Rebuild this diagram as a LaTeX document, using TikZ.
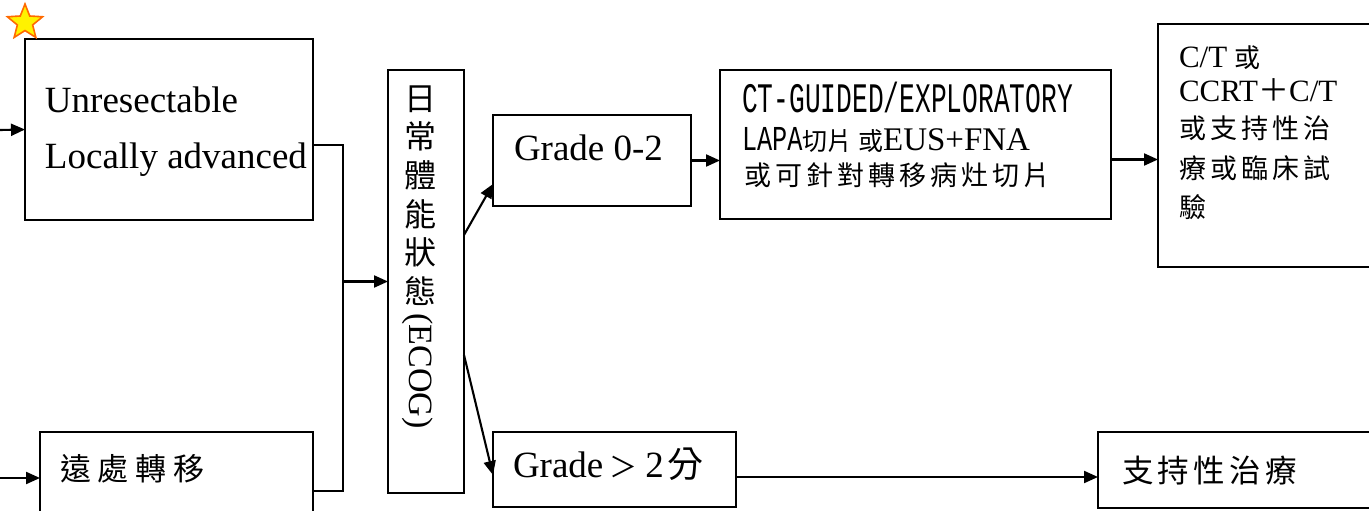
\documentclass[tikz,border=0pt]{standalone}
\usepackage{fontspec}
\setmainfont{Liberation Serif}
\newfontfamily\cjk{Noto Sans CJK TC}
\newfontfamily\cjkB{Noto Sans CJK TC}[LetterSpace=22]
\newfontfamily\cjkS{Noto Sans CJK TC}[LetterSpace=14]
\newfontfamily\cjkR{Noto Sans CJK TC}[LetterSpace=15]
\newfontfamily\cjkC{Noto Sans CJK TC}[LetterSpace=15]
\newfontfamily\monoA{Liberation Mono}[FakeStretch=0.625]
\newfontfamily\monoB{Liberation Mono}[FakeStretch=0.72]
\usetikzlibrary{arrows.meta,shapes.geometric}
\newcommand\fsz[1]{\fontsize{#1}{#1}\selectfont}
\definecolor{staryellow}{HTML}{FFF200}
\definecolor{starorange}{HTML}{FF6A00}
\tikzset{
  ln/.style={line width=2.1pt},
  arr/.style={ln,-{Triangle[length=14pt,width=12pt]}},
  boxnode/.style={draw,line width=2.1pt,inner sep=0pt,outer sep=0pt,anchor=north west},
  txt/.style={inner sep=0pt,outer sep=0pt,anchor=base west},
  ctxt/.style={inner sep=0pt,outer sep=0pt,anchor=base}
}
\begin{document}
\begin{tikzpicture}[x=1pt,y=-1pt]
\useasboundingbox (0,0) rectangle (1369,511);
\clip (0,0) rectangle (1369,511);
% boxes
\node[boxnode,minimum width=288pt,minimum height=181pt] (A) at (25,39) {};
\node[boxnode,minimum width=273pt,minimum height=118pt] (B) at (40,432) {};
\node[boxnode,minimum width=76pt,minimum height=423pt] (E) at (388,70) {};
\node[boxnode,minimum width=198pt,minimum height=91pt] (G1) at (493,115) {};
\node[boxnode,minimum width=243pt,minimum height=75pt] (G2) at (493,432) {};
\node[boxnode,minimum width=391pt,minimum height=149pt] (CT) at (720,70) {};
\node[boxnode,minimum width=260pt,minimum height=243pt] (R) at (1158,24) {};
\node[boxnode,minimum width=320pt,minimum height=76pt] (S) at (1098,432) {};
% star
\node[star,star points=5,star point ratio=2.3,minimum size=37pt,inner sep=0pt,
      fill=staryellow,draw=starorange,line width=1.6pt] (st) at (25,22.5) {};
% texts
\node[txt] (tA1) at (45,113) {\fsz{37}Unresectable};
\node[txt] (tA2) at (45,168) {\fsz{37}Locally advanced};
\node[txt] (tB) at (60,480) {\cjkB\fsz{31}遠處轉移};
\foreach \c [count=\i] in {日,常,體,能,狀,態}
  \node[ctxt] (e\i) at (420,{110.2+(\i-1)*38.6}) {\cjk\fsz{32}\c};
\node[inner sep=0pt,rotate=-90] (eg) at (418,371) {\fsz{34}(ECOG)};
\node[txt] (tG1) at (514,160) {\fsz{37}Grade 0-2};
\node[txt] (tG2) at (513,477) {\fsz{37}Grade\hspace{6pt}{\cjk\fsz{28}＞}\hspace{8pt}2\hspace{4pt}{\cjk\fsz{36}分}};
\node[txt] (c1) at (742,113) {\monoA\fsz{42}CT-GUIDED/EXPLORATORY};
\node[txt] (c2) at (742,150) {\monoB\fsz{35}LAPA{\cjk\fsz{25}切片 或}\rmfamily\fsz{33}EUS+FNA};
\node[txt] (c3) at (744,185) {\cjkC\fsz{27}或可針對轉移病灶切片};
\node[txt] (r1) at (1179,67) {\fsz{31}C/T {\cjk\fsz{26}或}};
\node[txt] (r2) at (1179,102) {\fsz{31}CCRT{\cjk ＋}C/T};
\node[txt] (r3) at (1179,139) {\cjkR\fsz{27}或支持性治};
\node[txt] (r4) at (1179,178.5) {\cjkR\fsz{27}療或臨床試};
\node[txt] (r5) at (1179,217.5) {\cjkR\fsz{27}驗};
\node[txt] (tS) at (1122,482) {\cjkS\fsz{31.5}支持性治療};
% connectors
\coordinate (inA) at (0,130);
\coordinate (inB) at (0,478);
\coordinate (j) at (343,281.5);
\draw[arr] (inA) -- (A.west);
\draw[arr] (inB) -- (inB -| B.west);
\draw[ln] ([yshift=-15.5pt]A.east) -| (j) |- (B.east);
\draw[arr] (j) -- (E.west);
\draw[arr] ([yshift=46.5pt]E.east) -- ([yshift=-23.5pt]G1.west);
\draw[arr] ([yshift=-73.5pt]E.east) -- ([yshift=-5.5pt]G2.west);
\draw[arr] (G1.east) -- (G1.east -| CT.west);
\path ([yshift=-15pt]CT.east) coordinate (cto);
\draw[arr] (cto) -- (cto -| R.west);
\path ([yshift=-7.5pt]G2.east) coordinate (g2o);
\draw[arr] (g2o) -- (g2o -| S.west);
\end{tikzpicture}
\end{document}
